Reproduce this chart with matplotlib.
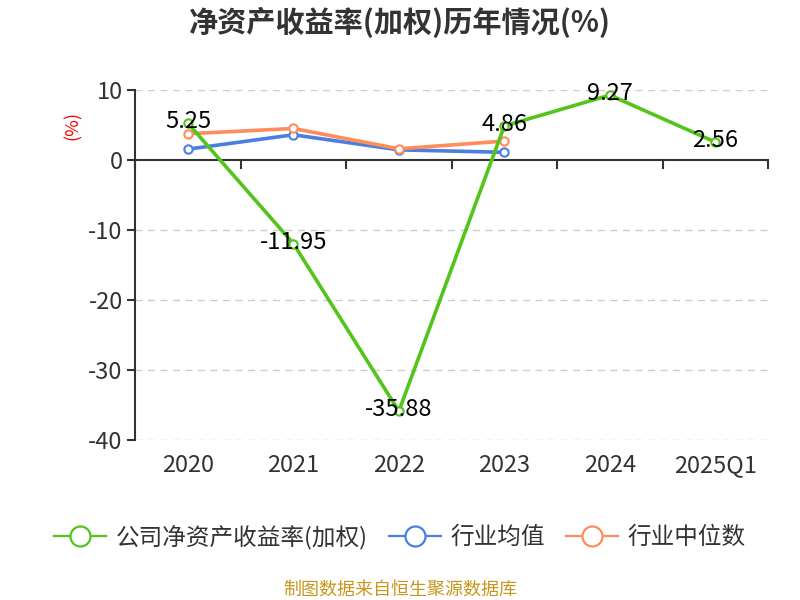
import numpy as np
import matplotlib.pyplot as plt

plt.rcParams['font.family'] = ['Noto Sans CJK SC', 'DejaVu Sans']
plt.rcParams['axes.unicode_minus'] = False

# 数据
years = ['2020', '2021', '2022', '2023', '2024', '2025Q1']
roe = [5.25, -11.95, -35.88, 4.86, 9.27, 2.56]
ind_avg = [1.55, 3.6, 1.45, 1.1]
ind_median = [3.75, 4.5, 1.6, 2.7]

green = '#52c41a'
blue = '#4a7ee0'
orange = '#ff8c5a'

fig = plt.figure(figsize=(8, 6), dpi=100)
ax = fig.add_axes([0.169, 0.2667, 0.791, 0.5833])

x = np.arange(len(years))
ax.plot(x, roe, color=green, lw=2.6, marker='o', ms=6, mfc='white', mec=green, mew=1.5,
        label='公司净资产收益率(加权)', zorder=4)
ax.plot(x[:len(ind_avg)], ind_avg, color=blue, lw=2.6, marker='o', ms=6, mfc='white', mec=blue,
        mew=1.5, label='行业均值', zorder=3)
ax.plot(x[:len(ind_median)], ind_median, color=orange, lw=2.6, marker='o', ms=6, mfc='white',
        mec=orange, mew=1.5, label='行业中位数', zorder=3)

for xi, v in zip(x, roe):
    ax.text(xi, v + 0.2, f'{v:.2f}', ha='center', va='center', fontsize=17, color='black', zorder=5)

ax.set_xlim(-0.5, len(years) - 0.5)
ax.set_ylim(-40, 10)
ax.set_yticks([10, 0, -10, -20, -30, -40])
ax.set_xticks(x)
ax.set_xticklabels(years)

for v in [10, -10, -20, -30, -40]:
    ax.axhline(v, color='#cccccc', lw=1, ls=(0, (5, 4)), zorder=0)

for s in ['top', 'right', 'bottom']:
    ax.spines[s].set_visible(False)
ax.spines['left'].set_color('#333333')
ax.spines['left'].set_linewidth(1.5)
ax.axhline(0, color='#333333', lw=1.5, zorder=2)

ax.tick_params(axis='y', labelsize=17, labelcolor='#333333', length=6, width=1.5, color='#333333', pad=3)
ax.tick_params(axis='x', length=0, labelsize=17, labelcolor='#333333', pad=10)
# 0 轴上的刻度
for t in np.arange(-0.5, len(years), 1):
    ax.plot([t, t], [0, -1.1], color='#333333', lw=1.5, zorder=2, clip_on=False)

fig.text(0.5, 0.962, '净资产收益率(加权)历年情况(%)', ha='center', va='center', fontsize=21,
         fontweight='bold', color='#333333')
fig.text(0.091, 0.791, '(%)', ha='center', va='center', rotation=90, fontsize=13, color='red')

ax.legend(loc='center', bbox_to_anchor=(0.5, 0.105), bbox_transform=fig.transFigure, frameon=False,
          ncol=3, fontsize=17, handlelength=2.2, columnspacing=0.9, handletextpad=0.4,
          labelcolor='#333333', markerscale=2.4)
for h in ax.get_legend().legend_handles:
    h.set_linewidth(1.6)
    h.set_markeredgewidth(1.6)

fig.text(0.5, 0.017, '制图数据来自恒生聚源数据库', ha='center', va='center', fontsize=13, color='#c8961e')

fig.savefig('out.png', dpi=100)
